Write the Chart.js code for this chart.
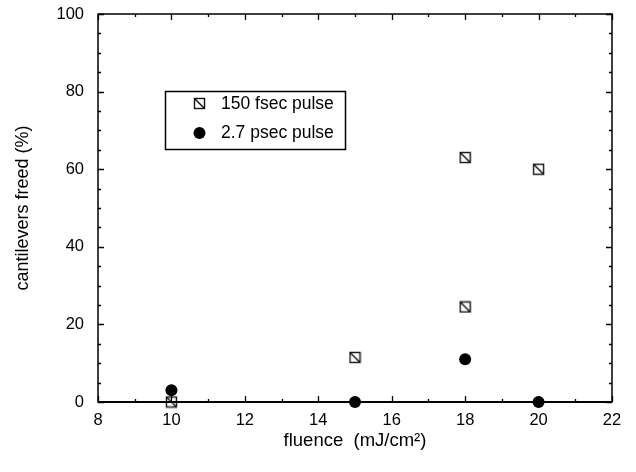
<!DOCTYPE html>
<html>
<head>
<meta charset="utf-8">
<script src="https://cdn.jsdelivr.net/npm/chart.js@4.4.1/dist/chart.umd.min.js"></script>
<style>
  html, body { margin: 0; padding: 0; background: #fff; }
  #wrap { width: 636px; height: 472px; }
</style>
</head>
<body>
<div id="wrap"><canvas id="chart"></canvas></div>
<script>
// data
const fsecLabel = "150 fsec pulse";
const fsecFluence = [10, 15, 18, 18, 20];
const fsecFreed = [0, 11.5, 63, 24.5, 60];

const psecLabel = "2.7 psec pulse";
const psecFluence = [10, 15, 18, 20];
const psecFreed = [3, 0, 11, 0];

const xTicks = [8, 10, 12, 14, 16, 18, 20, 22];
const yTicks = [0, 20, 40, 60, 80, 100];

const FONT = "Liberation Sans, Arial, sans-serif";

// square with a diagonal, like the original plot symbol
function makeSquare() {
  const c = document.createElement("canvas");
  c.width = 13;
  c.height = 13;
  const g = c.getContext("2d");
  g.fillStyle = "#fff";
  g.fillRect(1.5, 1.5, 10, 10);
  g.strokeStyle = "#111";
  g.lineWidth = 1.4;
  g.strokeRect(1.5, 1.5, 10, 10);
  g.beginPath();
  g.moveTo(1.5, 1.5);
  g.lineTo(11.5, 11.5);
  g.stroke();
  return c;
}
const squareImg = makeSquare();

function toPoints(xs, ys) {
  return xs.map((x, i) => ({ x: x, y: ys[i] }));
}

// inward ticks on all four sides plus the frame
const frame = {
  id: "frame",
  afterDatasetsDraw(chart) {
    const ctx = chart.ctx;
    const a = chart.chartArea;
    const xs = chart.scales.x;
    const ys = chart.scales.y;
    ctx.save();
    ctx.strokeStyle = "#000";
    ctx.lineWidth = 1.3;
    ctx.beginPath();
    for (let v = 8; v <= 22; v++) {
      const px = Math.round(xs.getPixelForValue(v)) + 0.5;
      const len = v % 2 === 0 ? 6 : 3;
      ctx.moveTo(px, a.bottom);
      ctx.lineTo(px, a.bottom - len);
      ctx.moveTo(px, a.top);
      ctx.lineTo(px, a.top + len);
    }
    for (let v = 0; v <= 100; v += 5) {
      const py = Math.round(ys.getPixelForValue(v)) + 0.5;
      const len = v % 20 === 0 ? 6 : 3;
      ctx.moveTo(a.left, py);
      ctx.lineTo(a.left + len, py);
      ctx.moveTo(a.right, py);
      ctx.lineTo(a.right - len, py);
    }
    ctx.stroke();
    ctx.lineWidth = 1.5;
    ctx.strokeRect(a.left, a.top, a.right - a.left, a.bottom - a.top);
    ctx.lineWidth = 2.2;
    ctx.beginPath();
    ctx.moveTo(a.left, a.bottom);
    ctx.lineTo(a.right, a.bottom);
    ctx.stroke();
    ctx.restore();
  },
  afterDraw(chart) {
    // boxed legend inside the plot
    const ctx = chart.ctx;
    ctx.save();
    ctx.lineWidth = 1.5;
    ctx.strokeStyle = "#000";
    ctx.strokeRect(165.5, 91.5, 180, 58);
    ctx.drawImage(squareImg, 193, 97);
    ctx.fillStyle = "#000";
    ctx.beginPath();
    ctx.arc(199.5, 133, 6, 0, Math.PI * 2);
    ctx.fill();
    ctx.font = "17.5px " + FONT;
    ctx.textBaseline = "middle";
    ctx.fillText(fsecLabel, 221, 104);
    ctx.fillText(psecLabel, 221, 133);
    ctx.restore();
  }
};

new Chart(document.getElementById("chart"), {
  type: "scatter",
  data: {
    datasets: [
      {
        label: psecLabel,
        data: toPoints(psecFluence, psecFreed),
        pointStyle: "circle",
        pointRadius: 6,
        backgroundColor: "#000",
        borderColor: "#000",
        borderWidth: 0,
        clip: false,
        order: 0
      },
      {
        label: fsecLabel,
        data: toPoints(fsecFluence, fsecFreed),
        pointStyle: squareImg,
        pointRadius: 6,
        clip: false,
        order: 1
      }
    ]
  },
  options: {
    responsive: true,
    maintainAspectRatio: false,
    animation: false,
    layout: { padding: { top: 14, right: 24, left: 0, bottom: 0 } },
    plugins: {
      legend: { display: false },
      tooltip: { enabled: false }
    },
    scales: {
      x: {
        type: "linear",
        min: 8,
        max: 22,
        afterBuildTicks: (s) => { s.ticks = xTicks.map((v) => ({ value: v })); },
        afterFit: (s) => {
          s.height = 70;
          s.paddingLeft = 0;
          s.paddingRight = 0;
        },
        grid: { display: false, drawTicks: false },
        border: { display: false },
        ticks: {
          color: "#000",
          padding: 9,
          font: { family: FONT, size: 16.5 }
        },
        title: {
          display: true,
          text: "fluence  (mJ/cm\u00b2)",
          color: "#000",
          font: { family: FONT, size: 18.5 },
          padding: { top: 0, bottom: 20 }
        }
      },
      y: {
        type: "linear",
        min: 0,
        max: 100,
        afterBuildTicks: (s) => { s.ticks = yTicks.map((v) => ({ value: v })); },
        afterFit: (s) => {
          s.width = 98;
          s.paddingTop = 0;
          s.paddingBottom = 0;
        },
        grid: { display: false, drawTicks: false },
        border: { display: false },
        ticks: {
          color: "#000",
          padding: 14,
          font: { family: FONT, size: 16.5 }
        },
        title: {
          display: true,
          text: "cantilevers freed (%)",
          color: "#000",
          font: { family: FONT, size: 18 },
          padding: { top: 12, bottom: 0 }
        }
      }
    }
  },
  plugins: [frame]
});
</script>
</body>
</html>
